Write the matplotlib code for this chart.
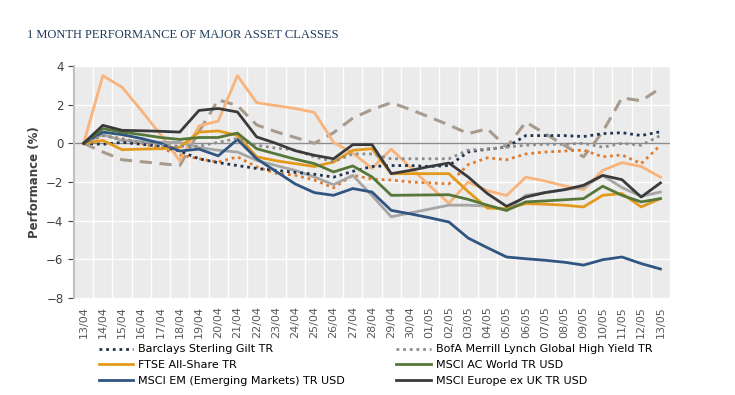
import matplotlib.pyplot as plt
import numpy as np

# Dates on the x axis
dates = ['13/04', '14/04', '15/04', '16/04', '17/04', '18/04', '19/04', '20/04',
         '21/04', '22/04', '23/04', '24/04', '25/04', '26/04', '27/04', '28/04',
         '29/04', '30/04', '01/05', '02/05', '03/05', '04/05', '05/05', '06/05',
         '07/05', '08/05', '09/05', '10/05', '11/05', '12/05', '13/05']

# Performance (%) series
gilt = [0, -0.05, 0.05, -0.05, -0.15, -0.4, -0.8, -1.0, -1.15, -1.3, -1.4, -1.5, -1.6,
        -1.75, -1.45, -1.2, -1.15, -1.15, -1.2, -1.15, -0.45, -0.3, -0.2, 0.4, 0.4,
        0.4, 0.35, 0.5, 0.55, 0.4, 0.6]
high_yield = [0, 0.4, 0.2, 0.05, -0.1, -0.15, -0.15, 0.05, 0.25, -0.1, -0.25, -0.35, -0.7,
              -0.95, -0.55, -0.55, -0.8, -0.8, -0.8, -0.8, -0.35, -0.3, -0.2, -0.1,
              -0.05, -0.05, 0.0, -0.2, 0.0, -0.1, 0.4]
ftse = [0, 0.15, -0.33, -0.3, -0.28, -0.2, 0.58, 0.64, 0.41, -0.7, -0.9, -1.05, -1.2,
        -0.97, -0.36, -0.28, -1.57, -1.57, -1.57, -1.57, -2.5, -3.35, -3.38, -3.12,
        -3.15, -3.2, -3.29, -2.69, -2.6, -3.29, -2.86]
acwi = [0, 0.76, 0.58, 0.45, 0.3, 0.2, 0.3, 0.3, 0.53, -0.28, -0.55, -0.82, -1.05,
        -1.48, -1.17, -1.74, -2.69, -2.68, -2.67, -2.66, -2.9, -3.2, -3.47, -3.03,
        -2.98, -2.92, -2.86, -2.22, -2.69, -3.03, -2.86]
em = [0, 0.58, 0.45, 0.25, 0.0, -0.4, -0.3, -0.65, 0.2, -0.8, -1.45, -2.1, -2.55,
      -2.69, -2.34, -2.52, -3.47, -3.65, -3.85, -4.07, -4.9, -5.4, -5.88, -5.97,
      -6.05, -6.15, -6.3, -6.02, -5.88, -6.22, -6.5]
europe = [0, 0.93, 0.67, 0.65, 0.62, 0.58, 1.7, 1.8, 1.62, 0.33, 0.0, -0.38, -0.62,
          -0.8, -0.07, -0.07, -1.57, -1.4, -1.2, -1.02, -1.74, -2.6, -3.26, -2.78,
          -2.55, -2.4, -2.17, -1.66, -1.88, -2.78, -2.05]
# series without a legend entry
peach = [0, 3.5, 2.9, 1.7, 0.45, -0.9, 0.9, 1.15, 3.5, 2.1, 1.95, 1.8, 1.6, 0.05,
         -0.5, -1.3, -0.3, -1.25, -2.2, -3.1, -2.0, -2.45, -2.7, -1.75, -1.95, -2.2,
         -2.4, -1.4, -1.0, -1.2, -1.75]
grey_solid = [0, 0.45, 0.15, 0.1, 0.05, 0.05, -0.22, -0.36, -0.45, -0.88, -1.15, -1.4,
              -1.74, -2.14, -1.66, -2.7, -3.8, -3.6, -3.4, -3.2, -3.2, -3.25, -3.47,
              -2.69, -2.55, -2.4, -2.26, -1.66, -2.29, -2.74, -2.52]
dashed = [0, -0.45, -0.85, -0.95, -1.05, -1.15, 0.6, 2.25, 1.95, 0.95, 0.6, 0.3, 0.0,
          0.55, 1.3, 1.75, 2.1, 1.75, 1.35, 0.95, 0.5, 0.75, -0.2, 1.1, 0.5, -0.1,
          -0.7, 0.6, 2.35, 2.2, 2.85]
orange_dot = [0, 0.4, 0.25, 0.0, -0.25, -0.6, -0.8, -0.97, -0.7, -1.22, -1.55, -1.65,
              -1.9, -2.3, -1.65, -1.85, -1.9, -2.0, -2.05, -2.1, -1.1, -0.75, -0.85,
              -0.55, -0.45, -0.4, -0.35, -0.7, -0.6, -1.05, -0.1]

x = np.arange(len(dates))
dots = (0, (1, 1.4))

fig = plt.figure(figsize=(7.35, 3.95), dpi=100)
ax = fig.add_axes([0.1007, 0.2456, 0.8109, 0.5874])
ax.set_facecolor('#EBEBEB')

# unlabelled series first (drawn underneath)
ax.plot(x, dashed, color='#A89B8E', lw=2.2, ls=(0, (4, 2.5)))
ax.plot(x, orange_dot, color='#E07B2E', lw=2.0, ls=dots)
ax.plot(x, peach, color='#F8B47C', lw=2.0)
ax.plot(x, grey_solid, color='#A6A6A6', lw=2.0)

ax.plot(x, gilt, color='#1F3450', lw=2.0, ls=dots, label='Barclays Sterling Gilt TR')
ax.plot(x, ftse, color='#E39A1C', lw=2.0, label='FTSE All-Share TR')
ax.plot(x, em, color='#2F5580', lw=2.0, label='MSCI EM (Emerging Markets) TR USD')
ax.plot(x, high_yield, color='#8C8C8C', lw=2.0, ls=dots,
        label='BofA Merrill Lynch Global High Yield TR')
ax.plot(x, acwi, color='#56763A', lw=2.0, label='MSCI AC World TR USD')
ax.plot(x, europe, color='#3A3A3A', lw=2.0, label='MSCI Europe ex UK TR USD')

ax.axhline(0, color='#8C8C8C', lw=1, zorder=1)

ax.set_xlim(-0.5, len(dates) - 0.5)
ax.set_ylim(-8, 4)
ax.set_yticks(range(-8, 5, 2))
ax.set_xticks(x)
ax.set_xticklabels(dates, rotation=90, fontsize=8, color='#595959')
ax.set_xticks(np.arange(-0.5, len(dates)), minor=True)
ax.tick_params(axis='x', which='major', length=0, pad=6)
ax.tick_params(axis='x', which='minor', length=0)
ax.tick_params(axis='y', labelsize=8.5, colors='#404040', length=4)
ax.grid(True, which='minor', axis='x', color='white', lw=1)
ax.grid(True, which='major', axis='y', color='white', lw=1)
ax.set_axisbelow(True)
for s in ['top', 'right', 'bottom']:
    ax.spines[s].set_visible(False)
ax.spines['left'].set_color('#BFBFBF')
ax.spines['left'].set_linewidth(1.5)

ax.set_ylabel('Performance (%)', fontsize=8.5, fontweight='bold', color='#404040')

fig.text(0.037, 0.905, '1 MONTH PERFORMANCE OF MAJOR ASSET CLASSES',
         family='Liberation Serif', fontsize=9, color='#1F3B5A')

fig.legend(loc='upper left', bbox_to_anchor=(0.1347, 0.128), ncol=2, frameon=False,
           fontsize=8, handlelength=3.1, handletextpad=0.45, labelspacing=0.5,
           columnspacing=4.6, borderaxespad=0, borderpad=0)

fig.savefig('out.png', dpi=100)
